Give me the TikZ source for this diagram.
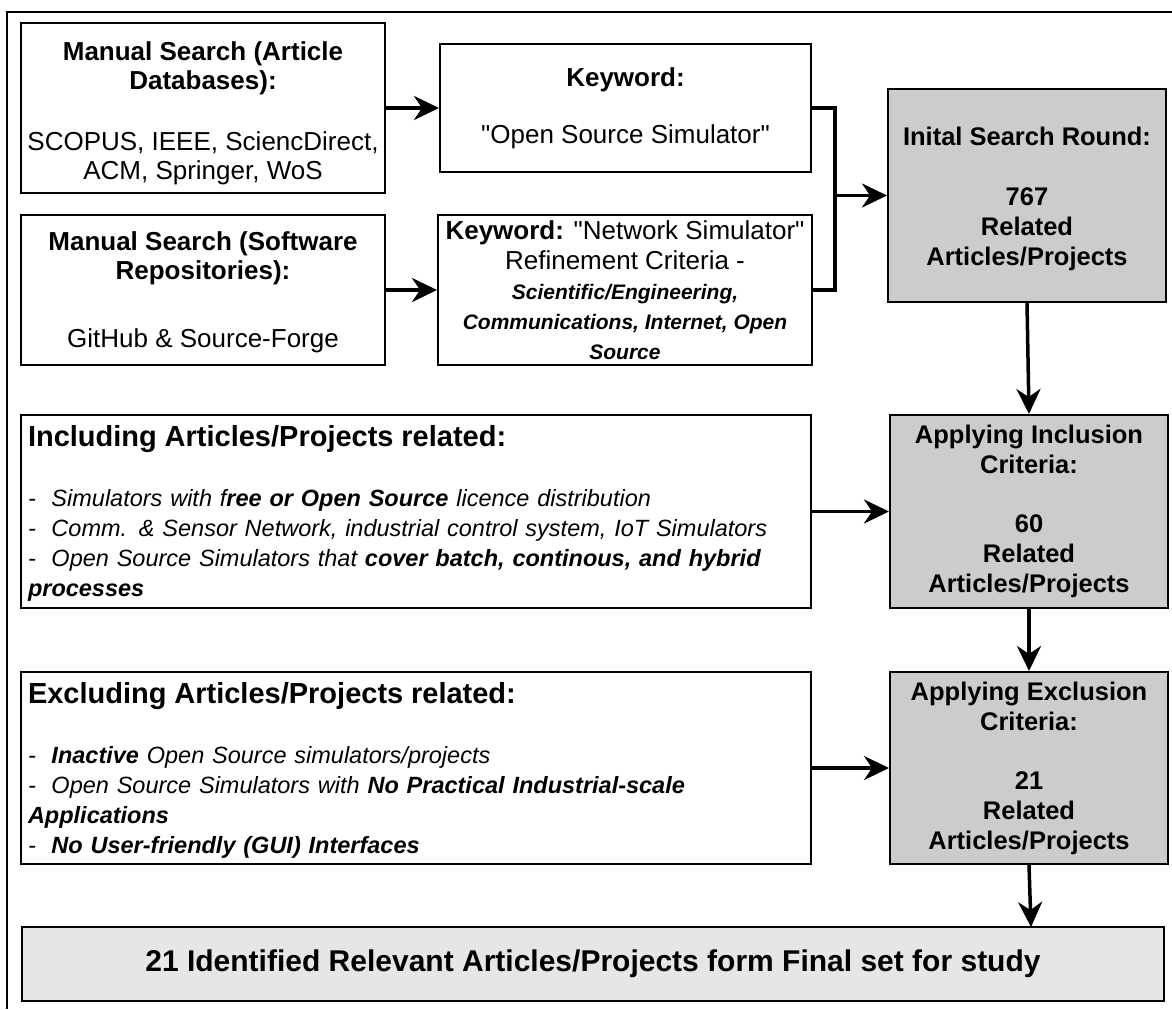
\documentclass[tikz,border=0pt]{standalone}
\usepackage{fontspec}
\setmainfont{Liberation Sans}[Ligatures=TeXOff]
\usetikzlibrary{arrows.meta}
\definecolor{boxgrey}{HTML}{CCCCCC}
\definecolor{finalgrey}{HTML}{E6E6E6}
\newcommand{\kwsmall}{\fontsize{21}{30}\selectfont\bfseries\itshape}
\newcommand{\listhead}{\fontsize{29}{30}\selectfont\upshape\bfseries}
\newcommand{\toppad}[1]{\rule{0pt}{#1}}
\begin{document}
\begin{tikzpicture}[x=1pt,y=1pt,
  box/.style={draw=black, line width=2pt, inner sep=0pt, align=center, fill=white},
  greybox/.style={box, fill=boxgrey, font=\fontsize{25.5}{30}\selectfont\bfseries},
  listbox/.style={box, inner xsep=7pt, text width=776pt, align=left, font=\fontsize{23.5}{30}\selectfont\itshape},
  conn/.style={line width=3.5pt, draw=black},
  arrow/.style={conn, -{Stealth[length=25pt,width=24pt,inset=8pt]}},
  frameline/.style={line width=2.5pt, draw=black}
]
\useasboundingbox (0,0) rectangle (1172,-1009);
\draw[frameline] (7,-1009) -- (7,-12) -- (1172,-12);

% top-left boxes
\node[box, minimum width=364, minimum height=170, font=\fontsize{26}{29}\selectfont] (A) at (203,-108)
  {\toppad{29pt}\textbf{Manual Search (Article}\\\textbf{Databases):}\\[32pt]SCOPUS, IEEE, SciencDirect,\\ACM, Springer, WoS};
\node[box, minimum width=371, minimum height=128, font=\fontsize{26}{29}\selectfont] (B) at (625.5,-108)
  {\textbf{Keyword:}\\[28pt]"Open Source Simulator"};
\node[box, minimum width=364, minimum height=150, font=\fontsize{26}{29}\selectfont] (C) at (203,-290)
  {\toppad{23pt}\textbf{Manual Search (Software}\\\textbf{Repositories):}\\[39pt]GitHub \& Source-Forge};
\node[box, minimum width=374, minimum height=150, font=\fontsize{26}{30}\selectfont] (D) at (625,-290)
  {\textbf{Keyword:} "Network Simulator"\\Refinement Criteria -\\{\kwsmall Scientific/Engineering,}\\{\kwsmall Communications, Internet, Open}\\{\kwsmall Source}};

% grey column
\node[greybox, minimum width=278, minimum height=213] (E) at (1027,-195.5)
  {\toppad{25pt}Inital Search Round:\\[30pt]767\\Related\\Articles/Projects};
\node[greybox, minimum width=278, minimum height=193] (F) at (1029,-511.5)
  {Applying Inclusion\\Criteria:\\[29pt]60\\Related\\Articles/Projects};
\node[greybox, minimum width=278, minimum height=192] (G) at (1029,-768)
  {Applying Exclusion\\Criteria:\\[29pt]21\\Related\\Articles/Projects};

% criteria lists
\node[listbox, minimum width=790, minimum height=193] (H) at (416,-511.5)
  {\toppad{25pt}{\listhead Including Articles/Projects related:}\\[30pt]
   -~~Simulators with f\textbf{ree or Open Source} licence distribution\\
   -~~Comm. \& Sensor Network, industrial control system, IoT Simulators\\
   -~~Open Source Simulators that \textbf{cover batch, continous, and hybrid}\\
   \textbf{processes}};
\node[listbox, minimum width=790, minimum height=192] (I) at (416,-768)
  {\toppad{25pt}{\listhead Excluding Articles/Projects related:}\\[30pt]
   -~~\textbf{Inactive} Open Source simulators/projects\\
   -~~Open Source Simulators with \textbf{No Practical Industrial-scale}\\
   \textbf{Applications}\\
   -~~\textbf{No User-friendly (GUI) Interfaces}};

% final box
\node[box, fill=finalgrey, minimum width=1142, minimum height=74, font=\fontsize{30}{34}\selectfont\bfseries] (Z) at (593,-964)
  {21 Identified Relevant Articles/Projects form Final set for study};

% connectors
\draw[arrow] (A.east) -- (B.west);
\draw[arrow] (C.east) -- (D.west);
\coordinate (J) at (835,-196);
\draw[conn] (B.east) -| (J) |- (D.east);
\draw[arrow] (J |- E.west) -- (E.west);
\draw[arrow] (E.south) -- (F.north);
\draw[arrow] (F.south) -- (G.north);
\draw[arrow] (H.east) -- (F.west);
\draw[arrow] (I.east) -- (G.west);
\coordinate (K) at (1031,-927);
\draw[arrow] (G.south) -- (K);
\end{tikzpicture}
\end{document}
